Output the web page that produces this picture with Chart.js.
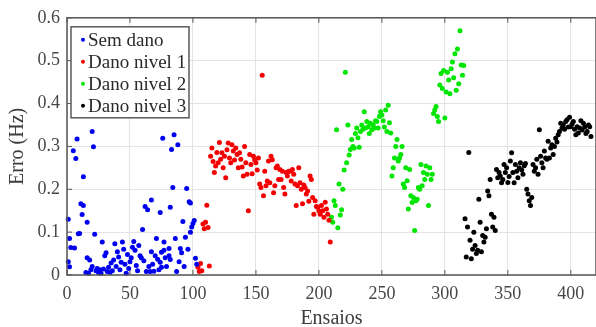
<!DOCTYPE html>
<html>
<head>
<meta charset="utf-8">
<script src="https://cdn.jsdelivr.net/npm/chart.js@4.4.1/dist/chart.umd.min.js"></script>
<style>
html, body { margin: 0; padding: 0; background: #fff; overflow: hidden; }
#wrap { position: relative; width: 600px; height: 340px; }
</style>
</head>
<body>
<div id="wrap"><canvas id="errChart"></canvas></div>
<script>
// ensaio number, error (Hz)
let semDano = [[1,0.13],[1,0.031],[2,0.085],[2,0.019],[3,0.064],[5,0.29],[6,0.063],[7,0.272],[8,0.317],[9,0.096],[10,0.097],[11,0.166],[12,0.141],[13,0.162],[13,0.229],[15,0.006],[16,0.123],[16,0.04],[17,0.004],[18,0.035],[19,0.012],[20,0.335],[20,0.02],[21,0.299],[22,0.095],[23,0.01],[24,0.015],[25,0.006],[26,0.012],[27,0.004],[28,0.077],[29,0.014],[30,0.045],[31,0.052],[32,0.008],[33,0.018],[34,0.006],[35,0.028],[36,0.01],[37,0.035],[38,0.073],[39,0.02],[40,0.054],[41,0.042],[42,0.012],[43,0.03],[44,0.077],[45,0.06],[46,0.025],[47,0.004],[48,0.048],[49,0.015],[50,0.031],[51,0.04],[52,0.065],[53,0.078],[54,0.058],[55,0.022],[56,0.01],[57,0.069],[58,0.045],[59,0.04],[60,0.106],[61,0.033],[62,0.16],[63,0.008],[64,0.152],[65,0.02],[66,0.008],[67,0.054],[67,0.175],[68,0.025],[69,0.009],[70,0.045],[71,0.085],[72,0.037],[73,0.012],[74,0.146],[74,0.03],[75,0.053],[75,0.018],[76,0.319],[77,0.058],[77,0.077],[78,0.04],[79,0.02],[81,0.062],[81,0.045],[82,0.036],[82,0.158],[83,0.293],[84,0.204],[85,0.327],[86,0.085],[87,0.008],[88,0.304],[89,0.031],[90,0.062],[91,0.052],[92,0.125],[93,0.02],[94,0.088],[95,0.202],[96,0.06],[97,0.171],[98,0.168],[98,0.1],[99,0.112],[100,0.12],[101,0.127],[102,0.039],[103,0.025]];

let danoNivel1 = [[104,0.018],[105,0.008],[106,0.027],[107,0.01],[108,0.119],[109,0.108],[110,0.123],[111,0.163],[112,0.111],[113,0.021],[114,0.277],[115,0.296],[116,0.265],[117,0.239],[118,0.254],[119,0.286],[120,0.262],[121,0.309],[122,0.27],[123,0.285],[124,0.25],[125,0.277],[126,0.227],[127,0.292],[128,0.308],[129,0.273],[130,0.262],[131,0.304],[132,0.289],[133,0.268],[134,0.296],[135,0.281],[136,0.25],[137,0.285],[138,0.27],[139,0.252],[140,0.231],[141,0.3],[142,0.262],[143,0.235],[144,0.15],[145,0.281],[146,0.258],[147,0.236],[148,0.277],[149,0.268],[150,0.262],[151,0.245],[152,0.273],[153,0.212],[154,0.204],[155,0.466],[156,0.185],[157,0.242],[158,0.208],[159,0.219],[160,0.266],[161,0.215],[162,0.277],[163,0.269],[164,0.192],[165,0.208],[166,0.25],[167,0.254],[168,0.223],[169,0.246],[170,0.223],[171,0.242],[172,0.204],[173,0.189],[174,0.239],[175,0.231],[176,0.242],[177,0.242],[178,0.219],[179,0.246],[180,0.235],[181,0.212],[182,0.162],[183,0.208],[184,0.25],[185,0.215],[186,0.2],[187,0.166],[188,0.21],[189,0.204],[190,0.189],[191,0.196],[192,0.172],[193,0.231],[194,0.223],[195,0.181],[196,0.142],[197,0.173],[198,0.16],[199,0.158],[200,0.15],[201,0.142],[202,0.162],[203,0.15],[204,0.135],[205,0.17],[206,0.154],[207,0.142],[208,0.128],[209,0.077]];

let danoNivel2 = [[210,0.135],[211,0.123],[212,0.173],[213,0.162],[214,0.339],[215,0.11],[216,0.212],[217,0.14],[218,0.152],[219,0.2],[220,0.245],[221,0.473],[222,0.262],[223,0.35],[224,0.28],[225,0.293],[226,0.316],[227,0.3],[228,0.296],[229,0.33],[230,0.343],[231,0.32],[232,0.298],[233,0.335],[234,0.35],[235,0.34],[236,0.381],[237,0.343],[238,0.358],[239,0.346],[240,0.33],[241,0.354],[242,0.339],[243,0.35],[244,0.343],[245,0.36],[246,0.358],[247,0.343],[248,0.37],[249,0.381],[250,0.373],[251,0.36],[252,0.345],[253,0.385],[254,0.335],[255,0.396],[256,0.355],[257,0.331],[258,0.231],[259,0.25],[260,0.273],[261,0.3],[262,0.316],[263,0.266],[264,0.273],[265,0.281],[266,0.3],[267,0.212],[268,0.204],[269,0.25],[270,0.22],[271,0.154],[272,0.246],[273,0.185],[274,0.169],[275,0.181],[276,0.104],[277,0.173],[278,0.177],[279,0.204],[280,0.2],[281,0.258],[282,0.208],[283,0.239],[284,0.223],[285,0.254],[286,0.235],[287,0.162],[288,0.25],[289,0.223],[290,0.235],[291,0.377],[292,0.385],[293,0.393],[294,0.37],[295,0.358],[296,0.443],[297,0.47],[298,0.435],[299,0.477],[300,0.366],[301,0.427],[302,0.473],[303,0.455],[304,0.423],[305,0.481],[306,0.497],[307,0.46],[308,0.516],[309,0.431],[310,0.527],[311,0.446],[312,0.57],[313,0.49],[314,0.466],[315,0.489]];

let danoNivel3 = [[316,0.131],[317,0.042],[318,0.112],[319,0.286],[320,0.081],[321,0.038],[322,0.06],[323,0.1],[324,0.069],[325,0.05],[326,0.058],[327,0.177],[328,0.123],[329,0.054],[330,0.092],[331,0.077],[332,0.088],[333,0.108],[334,0.196],[335,0.185],[336,0.223],[337,0.142],[338,0.112],[339,0.135],[340,0.104],[341,0.246],[342,0.227],[343,0.239],[344,0.231],[345,0.215],[346,0.223],[347,0.258],[348,0.239],[349,0.25],[350,0.216],[351,0.23],[352,0.266],[353,0.285],[354,0.239],[355,0.215],[356,0.258],[357,0.242],[358,0.227],[359,0.25],[360,0.262],[361,0.245],[362,0.235],[363,0.255],[364,0.26],[365,0.2],[366,0.189],[367,0.173],[368,0.162],[369,0.181],[370,0.258],[371,0.242],[372,0.25],[373,0.27],[374,0.235],[375,0.339],[376,0.277],[377,0.262],[378,0.25],[379,0.289],[380,0.273],[381,0.27],[382,0.312],[383,0.273],[384,0.296],[385,0.304],[386,0.281],[387,0.3],[388,0.319],[389,0.31],[390,0.327],[391,0.335],[392,0.354],[393,0.343],[394,0.35],[395,0.34],[396,0.358],[397,0.362],[398,0.345],[399,0.368],[400,0.346],[401,0.352],[402,0.358],[403,0.34],[404,0.327],[405,0.346],[406,0.331],[407,0.343],[408,0.36],[409,0.338],[410,0.354],[411,0.345],[412,0.33],[413,0.335],[414,0.35],[415,0.346],[416,0.323]];

let seriesNames = ['Sem dano', 'Dano nivel 1', 'Dano nivel 2', 'Dano nivel 3'];
let seriesColors = ['#0000f0', '#f50000', '#00e600', '#000000'];
let xTicks = [0, 50, 100, 150, 200, 250, 300, 350, 400];
let yTicks = [0, 0.1, 0.2, 0.3, 0.4, 0.5, 0.6];
let yTickLabels = ['0', '0.1', '0.2', '0.3', '0.4', '0.5', '0.6'];

let serif = "'Liberation Serif', 'Times New Roman', serif";

function toPoints(list){
return list.map(function(p){ return {x: p[0], y: p[1]}; });
}

// box, inward tick marks and the legend drawn on top of the points
let axesBox = {
id: 'axesBox',
afterDraw: function(chart){
let ctx = chart.ctx;
let a = chart.chartArea;
let xs = chart.scales.x;
let ys = chart.scales.y;
ctx.save();
ctx.strokeStyle = '#555';
ctx.lineWidth = 1.5;
ctx.strokeRect(a.left, a.top, a.right - a.left, a.bottom - a.top);

ctx.lineWidth = 1;
xTicks.forEach(function(v){
let px = xs.getPixelForValue(v);
ctx.beginPath();
ctx.moveTo(px, a.bottom); ctx.lineTo(px, a.bottom - 5);
ctx.moveTo(px, a.top); ctx.lineTo(px, a.top + 5);
ctx.stroke();
});
yTicks.forEach(function(v){
let py = ys.getPixelForValue(v);
ctx.beginPath();
ctx.moveTo(a.left, py); ctx.lineTo(a.left + 5, py);
ctx.stroke();
});

// legend
let lx = a.left + 4, ly = a.top + 9, lw = 118, lh = 91;
ctx.fillStyle = '#fff';
ctx.fillRect(lx, ly, lw, lh);
ctx.strokeStyle = '#5a5a5a';
ctx.lineWidth = 1.5;
ctx.strokeRect(lx, ly, lw, lh);
ctx.font = '19px ' + serif;
ctx.textBaseline = 'middle';
ctx.textAlign = 'left';
seriesNames.forEach(function(name, i){
let cy = ly + 13 + i * 22;
ctx.fillStyle = seriesColors[i];
ctx.beginPath();
ctx.arc(lx + 12, cy, 2, 0, Math.PI * 2);
ctx.fill();
ctx.fillStyle = '#2a2a2a';
ctx.fillText(name, lx + 17, cy + 1);
});
ctx.restore();
}
};

let allSeries = [semDano, danoNivel1, danoNivel2, danoNivel3];

new Chart(document.getElementById('errChart'), {
type: 'scatter',
data: {
datasets: allSeries.map(function(s, i){
return {
label: seriesNames[i],
data: toPoints(s),
backgroundColor: seriesColors[i],
borderWidth: 0,
pointRadius: 2.5,
clip: false
};
})
},
options: {
responsive: true,
maintainAspectRatio: false,
animation: false,
devicePixelRatio: 1,
layout: { padding: { left: 0, right: 0, top: 15, bottom: 0 } },
plugins: { legend: { display: false }, tooltip: { enabled: false } },
scales: {
x: {
type: 'linear',
min: 0,
max: 420,
afterFit: function(scale){ scale.height = 65; },
afterBuildTicks: function(scale){ scale.ticks = xTicks.map(function(v){ return {value: v}; }); },
ticks: { color: '#474747', padding: 8, font: { family: serif, size: 18 } },
grid: { color: '#e4e4e4', lineWidth: 1, drawTicks: false },
border: { display: false },
title: { display: true, text: 'Ensaios', color: '#3c3c3c', padding: { top: 0, bottom: 9 }, font: { family: serif, size: 20 } }
},
y: {
type: 'linear',
min: 0,
max: 0.6,
afterFit: function(scale){ scale.width = 67; },
afterBuildTicks: function(scale){ scale.ticks = yTicks.map(function(v){ return {value: v}; }); },
ticks: {
color: '#474747',
padding: 7,
font: { family: serif, size: 18 },
callback: function(value, index){ return yTickLabels[index]; }
},
grid: { color: '#e4e4e4', lineWidth: 1, drawTicks: false },
border: { display: false },
title: { display: true, text: 'Erro (Hz)', color: '#3c3c3c', padding: { top: 6, bottom: 0 }, font: { family: serif, size: 20 } }
}
}
},
plugins: [axesBox]
});
</script>
</body>
</html>
